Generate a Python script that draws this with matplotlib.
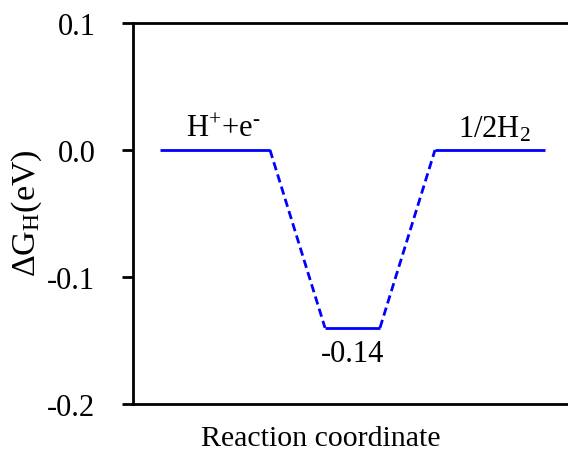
import matplotlib
matplotlib.use("Agg")
import matplotlib.pyplot as plt

plt.rcParams['font.family'] = ['Liberation Serif', 'DejaVu Serif']
plt.rcParams['mathtext.fontset'] = 'custom'
plt.rcParams['mathtext.rm'] = 'Liberation Serif'
plt.rcParams['mathtext.it'] = 'Liberation Serif:italic'
plt.rcParams['mathtext.bf'] = 'Liberation Serif:bold'

# Data
states = ['H$^{+}$+e$^{\u2010}$', '', '1/2H$_{2}$']
energies = [0.0, -0.14, 0.0]
value_labels = ['', '-0.14', '']
level_x = [(160, 270), (325, 380), (435, 545)]
state_label_x = [223, None, 494]
yticks = [0.1, 0.0, -0.1, -0.2]
ytick_labels = ['0.1', '0.0', '-0.1', '-0.2']

W, H = 568, 452
fig = plt.figure(figsize=(W / 100, H / 100), dpi=100)
left, right, top, bottom = 133, 572, 24, 405
ax = fig.add_axes([left / W, 1 - bottom / H, (right - left) / W, (bottom - top) / H])

color = (0, 0, 1)
for (x0, x1), e in zip(level_x, energies):
    ax.plot([x0, x1], [e, e], color=color, lw=2, solid_capstyle='butt')
for i in range(len(energies) - 1):
    ax.plot([level_x[i][1], level_x[i + 1][0]], [energies[i], energies[i + 1]],
            color=color, lw=2, ls=(0, (3, 1.6)))

for lx, e, s in zip(state_label_x, energies, states):
    if s:
        ax.text(lx, e + 0.011, s, ha='center', va='baseline', fontsize=22)
for (x0, x1), e, s in zip(level_x, energies, value_labels):
    if s:
        ax.text((x0 + x1) / 2, e - 0.0265, s, ha='center', va='baseline', fontsize=22)

ax.set_xlim(left, right)
ax.set_ylim(-0.2, 0.1)
ax.set_yticks(yticks)
ax.set_yticklabels(ytick_labels, fontsize=22)
ax.set_xticks([])
ax.tick_params(axis='y', direction='out', length=8, width=2, pad=19)
for sp in ax.spines.values():
    sp.set_linewidth(2)
ax.set_xlabel('Reaction coordinate', fontsize=21.5, labelpad=14)
ax.xaxis.set_label_coords((321 - left) / (right - left), -0.055)
ax.xaxis.label.set_va('top')
ax.set_ylabel(r'$\Delta$G$_\mathrm{H}$(eV)', fontsize=24.5)
ax.yaxis.set_label_coords(-(left - 27) / (right - left), (bottom - 213) / (bottom - top))
ax.yaxis.label.set_va('center')

fig.savefig('out.png', dpi=100)
